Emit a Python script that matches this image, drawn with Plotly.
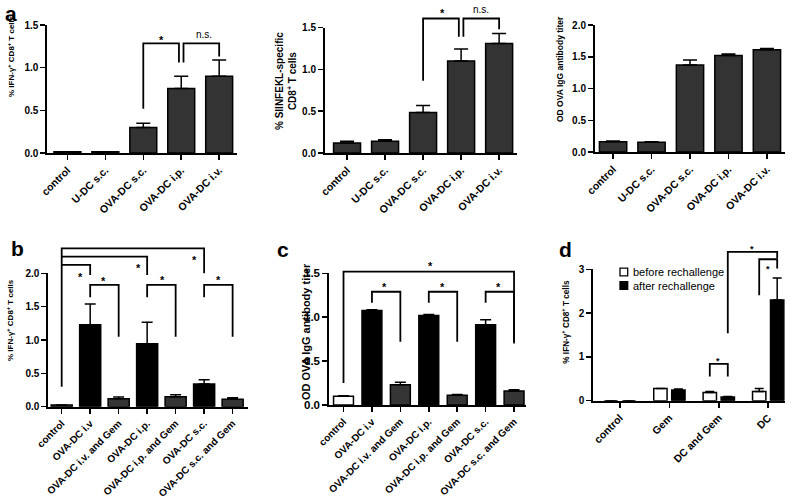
import plotly.graph_objects as go

W, H = 793, 497
FONT = "Liberation Sans"

# ---------------- data ----------------
a_cats = ["control", "U-DC s.c.", "OVA-DC s.c.", "OVA-DC i.p.", "OVA-DC i.v."]
a1_vals = [0.015, 0.015, 0.30, 0.755, 0.90]
a1_err = [0.0, 0.0, 0.05, 0.145, 0.19]
a2_vals = [0.12, 0.14, 0.485, 1.10, 1.31]
a2_err = [0.02, 0.02, 0.085, 0.145, 0.12]
a3_vals = [0.16, 0.155, 1.37, 1.52, 1.61]
a3_err = [0.015, 0.005, 0.08, 0.025, 0.02]

bc_cats = ["control", "OVA-DC i.v", "OVA-DC i.v. and Gem", "OVA-DC i.p.",
           "OVA-DC i.p. and Gem", "OVA-DC s.c.", "OVA-DC s.c. and Gem"]
b_vals = [0.025, 1.23, 0.12, 0.945, 0.15, 0.34, 0.11]
b_err = [0.0, 0.31, 0.025, 0.32, 0.03, 0.065, 0.025]
c_vals = [0.10, 1.075, 0.23, 1.02, 0.11, 0.915, 0.16]
c_err = [0.005, 0.01, 0.03, 0.012, 0.01, 0.055, 0.015]

d_cats = ["control", "Gem", "DC and Gem", "DC"]
d_before = [0.0, 0.28, 0.19, 0.21]
d_before_err = [0.0, 0.0, 0.02, 0.07]
d_after = [0.0, 0.245, 0.085, 2.30]
d_after_err = [0.0, 0.02, 0.01, 0.50]

# significance brackets: (x_left, y_left_leg_bottom, x_right, y_right_leg_bottom, y_top)
a1_brackets = [(2, 0.52, 2.94, 1.06, 1.285), (3.06, 1.06, 4, 1.13, 1.285)]
a2_brackets = [(2, 0.864, 2.94, 1.393, 1.61), (3.06, 1.393, 4, 1.48, 1.61)]
b_brackets = [(0, 0.30, 5, 2.0, 2.375), (0, 2.25, 3, 1.975, 2.25), (0, 2.125, 1, 1.975, 2.125),
              (1, 1.64, 2, 1.05, 1.825), (3, 1.64, 4, 1.05, 1.825), (5, 1.64, 6, 1.05, 1.825)]
c_brackets = [(0, 0.25, 6, 0.70, 1.52), (1, 1.165, 2, 0.72, 1.29), (3, 1.165, 4, 0.72, 1.29),
              (5, 1.165, 6, 0.72, 1.29)]
d_brackets = [(1.818, 0.55, 2.182, 0.55, 0.84), (2.818, 2.41, 3.182, 3.02, 3.23),
              (2.182, 1.54, 3.182, 3.25, 3.40)]
# significance labels: (x, y, text)
a1_marks = [(2.47, 1.36, "*"), (3.59, 1.39, "n.s.")]
a2_marks = [(2.5, 1.71, "*"), (3.53, 1.72, "n.s.")]
b_marks = [(0.66, 2.0, "*"), (2.71, 2.125, "*"), (4.66, 2.25, "*"),
           (1.48, 1.94, "*"), (3.53, 1.95, "*"), (5.5, 1.95, "*")]
c_marks = [(3.06, 1.62, "*"), (1.45, 1.38, "*"), (3.49, 1.38, "*"), (5.46, 1.38, "*")]
d_marks = [(2.67, 3.53, "*"), (3.0, 3.08, "*"), (1.99, 0.97, "*")]

BLACK = "#000000"
GRAY = "#353535"
b_colors = [GRAY, BLACK, GRAY, BLACK, GRAY, BLACK, GRAY]
c_colors = ["#ffffff", BLACK, GRAY, BLACK, GRAY, BLACK, GRAY]

fig = go.Figure()
layout = dict(width=W, height=H, margin=dict(l=0, r=0, t=0, b=0, autoexpand=False),
              autosize=False, paper_bgcolor="white", plot_bgcolor="rgba(0,0,0,0)",
              showlegend=False, barmode="overlay", font=dict(family=FONT, color="black"))
annotations = []
shapes = []


def add_panel(k, xpx, xrange, y0px, ytop_px, axis_top, ext, ytickvals, ytext, cats,
              yfont, xfont=10.5):
    ppu = (y0px - ytop_px) / axis_top
    ext_px = y0px - ext * ppu
    xd = [xpx[0] / W, xpx[1] / W]
    sfx = "" if k == 1 else str(k)
    layout["xaxis" + sfx] = dict(
        domain=xd, range=xrange, anchor="y" + sfx, tickmode="array",
        tickvals=list(range(len(cats))), ticktext=cats, tickangle=-45,
        showline=True, linewidth=2, linecolor="black", ticks="outside", ticklen=5,
        tickwidth=1.5, tickcolor="black", showgrid=False, zeroline=False, automargin=False,
        tickfont=dict(family=FONT, size=xfont, color="black", weight="bold"), fixedrange=True)
    layout["yaxis" + sfx] = dict(
        domain=[1 - y0px / H, 1 - ytop_px / H], range=[0, axis_top], anchor="x" + sfx,
        tickmode="array", tickvals=ytickvals, ticktext=ytext, automargin=False,
        showline=True, linewidth=2, linecolor="black", ticks="outside", ticklen=5,
        tickwidth=1.5, tickcolor="black", showgrid=False, zeroline=False,
        tickfont=dict(family=FONT, size=yfont, color="black", weight="bold"), fixedrange=True)
    k2 = str(k + 6)
    layout["xaxis" + k2] = dict(domain=xd, range=xrange, anchor="y" + k2, visible=False,
                                fixedrange=True)
    layout["yaxis" + k2] = dict(domain=[1 - y0px / H, 1 - ext_px / H], range=[0, ext],
                                anchor="x" + k2, visible=False, fixedrange=True)
    return sfx, k2


def bars(sfx, vals, err, colors, width, capw, offset=None):
    n = len(vals)
    fig.add_trace(go.Bar(
        x=list(range(n)), y=vals, width=width, offset=offset,
        marker=dict(color=colors, line=dict(color="black", width=1.5)),
        error_y=dict(type="data", array=err, arrayminus=[0] * n, symmetric=False,
                     color="black", thickness=1.5, width=capw),
        xaxis="x" + sfx, yaxis="y" + sfx, hoverinfo="skip"))


def brackets(k2, blist):
    for (xl, yl, xr, yr, yt) in blist:
        fig.add_trace(go.Scatter(x=[xl, xl, xr, xr], y=[yl, yt, yt, yr], mode="lines",
                                 line=dict(color="black", width=1.8),
                                 xaxis="x" + k2, yaxis="y" + k2, hoverinfo="skip"))


def marks(k2, mlist, size=11):
    for (x, y, t) in mlist:
        is_star = t == "*"
        annotations.append(dict(x=x, y=y, xref="x" + k2, yref="y" + k2, text=t,
                                showarrow=False, xanchor="center", yanchor="middle",
                                yshift=-0.3 * size if is_star else 0,
                                font=dict(family=FONT, size=size if is_star else 10,
                                          color="#000000",
                                          weight="bold" if is_star else "normal")))


def ytitle(text, xpx, ypx, size):
    annotations.append(dict(x=xpx / W, y=1 - ypx / H, xref="paper", yref="paper", text=text,
                            textangle=-90, showarrow=False, xanchor="center", yanchor="middle",
                            font=dict(family=FONT, size=size, color="black", weight="bold")))


def letter(t, xpx, ypx, anchor="middle"):
    annotations.append(dict(x=xpx / W, y=1 - ypx / H, xref="paper", yref="paper", text=t,
                            showarrow=False, xanchor="center", yanchor=anchor,
                            font=dict(family=FONT, size=21, color="black", weight="bold")))


t15 = ([0, 0.5, 1.0, 1.5], ["0.0", "0.5", "1.0", "1.5"])
t20 = ([0, 0.5, 1.0, 1.5, 2.0], ["0.0", "0.5", "1.0", "1.5", "2.0"])

# panel a (1)
s, k2 = add_panel(1, (47.3, 237), [-0.53, 4.47], 153, 25, 1.5, 1.5, *t15, a_cats, 10)
bars(s, a1_vals, a1_err, "#333333", 0.71, 7)
brackets(k2, a1_brackets)
marks(k2, a1_marks)
# panel a (2)
s, k2 = add_panel(2, (325, 517), [-0.58, 4.47], 153, 27.7, 1.5, 1.8, *t15, a_cats, 10)
bars(s, a2_vals, a2_err, "#333333", 0.71, 7)
brackets(k2, a2_brackets)
marks(k2, a2_marks)
# panel a (3)
s, k2 = add_panel(3, (595, 785), [-0.47, 4.47], 152, 25, 2.0, 2.0, *t20, a_cats, 10)
bars(s, a3_vals, a3_err, "#333333", 0.71, 7)
# panel b
s, k2 = add_panel(4, (48.3, 248), [-0.47, 6.54], 406.7, 273.3, 2.0, 2.5, *t20, bc_cats, 10,
                  xfont=10)
bars(s, b_vals, b_err, b_colors, 0.74, 5.5)
brackets(k2, b_brackets)
marks(k2, b_marks)
# panel c
s, k2 = add_panel(5, (329.3, 526), [-0.5, 6.42], 405, 273.3, 1.5, 1.75, *t15, bc_cats, 11.5,
                  xfont=10)
bars(s, c_vals, c_err, c_colors, 0.70, 5.5)
brackets(k2, c_brackets)
marks(k2, c_marks)
# panel d
s, k2 = add_panel(6, (593.3, 785), [-0.54, 3.34], 400.7, 269.3, 3.0, 3.7,
                  [0, 1, 2, 3], ["0", "1", "2", "3"], d_cats, 10)
bars(s, d_before, d_before_err, "#ffffff", 0.27, 4.5, offset=-0.317)
bars(s, d_after, d_after_err, BLACK, 0.27, 4.5, offset=0.047)
brackets(k2, d_brackets)
marks(k2, d_marks, size=9)

# axis titles
ytitle("% IFN-γ<sup>+</sup> CD8<sup>+</sup> T cells", 11, 56, 8)
ytitle("% SIINFEKL-specific<br>CD8<sup>+</sup> T cells", 286, 81, 10)
ytitle("OD OVA IgG antibody titer", 560, 69, 8.5)
ytitle("% IFN-γ<sup>+</sup> CD8<sup>+</sup> T cells", 10, 320, 8)
ytitle("OD OVA IgG antibody titer", 306, 332, 11)
ytitle("% IFN-γ<sup>+</sup> CD8<sup>+</sup> T cells", 565, 321.7, 8.2)

# panel letters
letter("a", 11, 0, anchor="top")
letter("b", 17, 249)
letter("c", 283, 250)
letter("d", 565, 250)

# legend for panel d
legend_items = [("before rechallenge", "#ffffff", 272), ("after rechallenge", "#000000", 285.5)]
for name, col, ycen in legend_items:
    shapes.append(dict(type="rect", xref="paper", yref="paper",
                       x0=620 / W, x1=627.7 / W, y0=1 - (ycen + 3.8) / H, y1=1 - (ycen - 3.8) / H,
                       fillcolor=col, line=dict(color="black", width=1.3)))
    annotations.append(dict(x=630.5 / W, y=1 - ycen / H, xref="paper", yref="paper", text=name,
                            showarrow=False, xanchor="left", yanchor="middle",
                            font=dict(family=FONT, size=11, color="black")))

layout["annotations"] = annotations
layout["shapes"] = shapes
fig.update_layout(**layout)
fig.write_html("out.html", config={"displayModeBar": False, "staticPlot": True},
               post_script="document.body.style.margin='0';document.body.style.overflow='hidden';")
